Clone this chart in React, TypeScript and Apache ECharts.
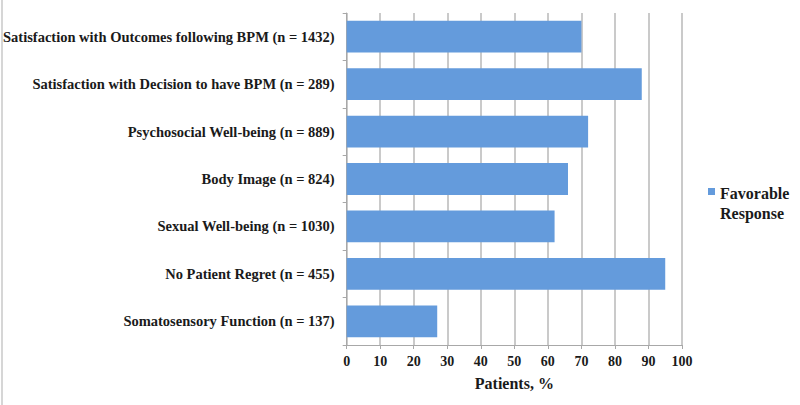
import React, { useEffect, useRef } from "react";
import * as echarts from "echarts";

const categories = [
  "Satisfaction with Outcomes following BPM (n = 1432)",
  "Satisfaction with Decision to have BPM (n = 289)",
  "Psychosocial Well-being (n = 889)",
  "Body Image (n = 824)",
  "Sexual Well-being (n = 1030)",
  "No Patient Regret (n = 455)",
  "Somatosensory Function (n = 137)",
];
const favorable = [70, 88, 72, 66, 62, 95, 27];
const seriesName = "Favorable Response";
const xAxisTitle = "Patients, %";

const FONT = "Liberation Serif";

export default function App() {
  const ref = useRef<HTMLDivElement>(null);
  useEffect(() => {
    document.body.style.margin = "0";
    const chart = echarts.init(ref.current!, null, { renderer: "svg" });
    chart.setOption({
      animation: false,
      backgroundColor: "#ffffff",
      grid: { left: 346, right: 118, top: 13, bottom: 60 },
      legend: {
        data: [seriesName],
        left: 703,
        top: 178,
        orient: "vertical",
        itemWidth: 7,
        itemHeight: 30,
        itemGap: 5,
        icon: "path://M0,0H7V7H0Z M0,30H0.01V30Z",
        formatter: () => "Favorable\nResponse",
        textStyle: {
          fontFamily: FONT,
          fontWeight: "bold",
          fontSize: 16,
          lineHeight: 20,
          color: "#1a1a1a",
        },
      },
      xAxis: {
        type: "value",
        min: 0,
        max: 100,
        interval: 10,
        name: xAxisTitle,
        nameLocation: "middle",
        nameGap: 30,
        nameTextStyle: {
          fontFamily: FONT,
          fontWeight: "bold",
          fontSize: 16,
          color: "#1a1a1a",
        },
        axisLine: { show: true, lineStyle: { color: "#a8a8a8", width: 1 } },
        axisTick: { show: true, length: 4, lineStyle: { color: "#a8a8a8" } },
        axisLabel: {
          fontFamily: FONT,
          fontWeight: "bold",
          fontSize: 14,
          color: "#1a1a1a",
          margin: 9,
        },
        splitLine: { show: true, lineStyle: { color: "#b8b8b8", width: 1.5 } },
      },
      yAxis: {
        type: "category",
        data: categories,
        inverse: true,
        axisLine: { show: true, lineStyle: { color: "#a8a8a8", width: 1 } },
        axisTick: { show: true, length: 4, lineStyle: { color: "#a8a8a8" } },
        axisLabel: {
          fontFamily: FONT,
          fontWeight: "bold",
          fontSize: 14.5,
          color: "#1a1a1a",
          margin: 12,
        },
      },
      series: [
        {
          name: seriesName,
          type: "bar",
          data: favorable,
          barCategoryGap: "33%",
          itemStyle: { color: "#649bdc" },
        },
      ],
      graphic: [
        {
          type: "line",
          shape: { x1: 2, y1: 0, x2: 2, y2: 405 },
          style: { stroke: "#c8c8c8", lineWidth: 1.5 },
        },
      ],
    });
    return () => chart.dispose();
  }, []);
  return <div ref={ref} style={{ width: 800, height: 405 }} />;
}
